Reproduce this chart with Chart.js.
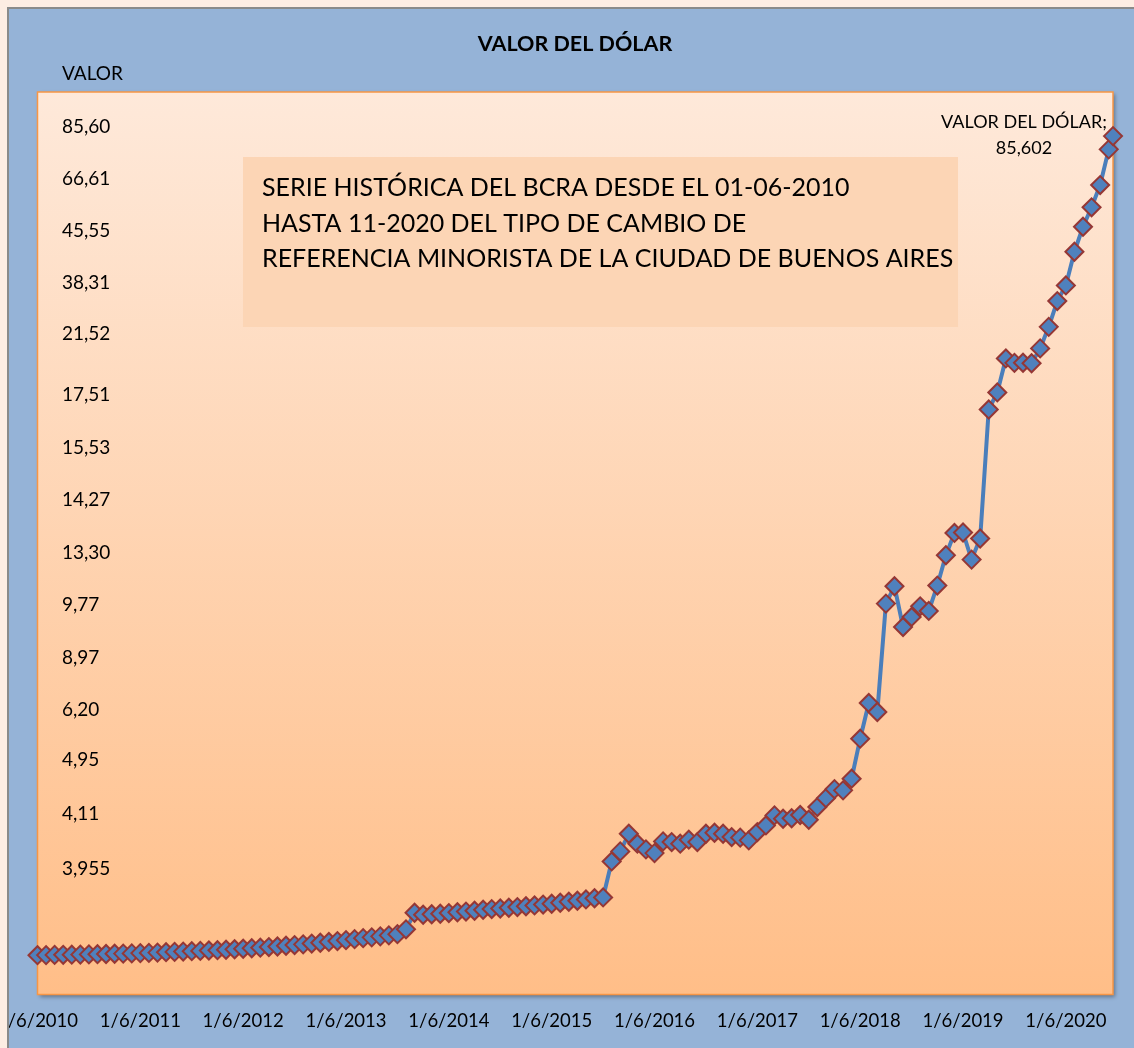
<!DOCTYPE html>
<html lang="es">
<head>
<meta charset="utf-8">
<title>Valor del dólar</title>
<script src="https://cdn.jsdelivr.net/npm/chart.js@4.4.1/dist/chart.umd.min.js"></script>
<style>
  html, body { margin: 0; padding: 0; overflow: hidden; background: #fdede3; }
  #grafico { position: absolute; left: -30px; top: 0; }
</style>
</head>
<body>
<canvas id="grafico" width="1164" height="1048"></canvas>
<script>
// valor del dolar al 1° de cada mes, desde 1/6/2010
const valores = [
  3.92, 3.93, 3.95, 3.96, 3.97, 3.98, 4.00,
  4.02, 4.04, 4.06, 4.08, 4.10, 4.13, 4.15, 4.18, 4.22, 4.25, 4.28, 4.32,
  4.35, 4.39, 4.42, 4.46, 4.51, 4.56, 4.61, 4.67, 4.73, 4.79, 4.86, 4.93,
  5.00, 5.08, 5.16, 5.24, 5.33, 5.42, 5.52, 5.62, 5.70, 5.80, 5.90, 6.02,
  6.50, 8.15, 7.95, 8.00, 8.05, 8.12, 8.20, 8.27, 8.35, 8.45, 8.52, 8.58,
  8.65, 8.72, 8.80, 8.88, 8.97, 9.05, 9.15, 9.25, 9.35, 9.48, 9.60, 9.68,
  13.27, 14.27, 16.03, 15.04, 14.47, 14.10, 15.27, 15.20, 15.04, 15.44, 15.20, 16.03,
  16.13, 16.03, 15.70, 15.64, 15.37, 16.20, 16.86, 17.86, 17.53, 17.58, 17.90, 17.43,
  18.69, 19.58, 20.48, 20.36, 21.52, 25.51, 29.07, 28.17, 38.98, 40.71, 36.65, 37.65,
  38.71, 38.25, 40.78, 43.80, 46.03, 46.07, 43.37, 45.47, 58.34, 60.04, 63.43, 62.99,
  63.00, 62.95, 64.43, 66.58, 69.15, 70.71, 74.07, 76.56, 78.50, 80.72, 84.28
];
// ultimo dato de la serie
const ultimaFecha = '16/11/2020';
const ultimoValor = 85.602;

const etiquetasX = ['1/6/2010', '1/6/2011', '1/6/2012', '1/6/2013', '1/6/2014', '1/6/2015',
  '1/6/2016', '1/6/2017', '1/6/2018', '1/6/2019', '1/6/2020'];

// rotulos escritos a mano sobre el eje vertical y el valor del eje donde aparecen
const etiquetasY = ['85,60', '66,61', '45,55', '38,31', '21,52', '17,51', '15,53', '14,27',
  '13,30', '9,77', '8,97', '6,20', '4,95', '4,11', '3,955'];
const posicionesY = [86.5, 81.3, 76.2, 71.0, 65.85, 59.75, 54.5, 49.3, 44.0, 38.9, 33.6, 28.4,
  23.35, 18.05, 12.55];

const titulo = 'VALOR DEL DÓLAR';
const tituloEje = 'VALOR';
const nota = ['SERIE HISTÓRICA DEL BCRA DESDE EL 01-06-2010',
  'HASTA 11-2020 DEL TIPO DE CAMBIO DE',
  'REFERENCIA MINORISTA DE LA CIUDAD DE BUENOS AIRES'];

// meses transcurridos desde el 1/6/2010
function mesesDesde(fecha) {
  const [d, m, a] = fecha.split('/').map(Number);
  return (a - 2010) * 12 + (m - 6) + (d - 1) / 30;
}

const fechas = valores.map((v, i) => {
  const m = 5 + i;
  return '1/' + (m % 12 + 1) + '/' + (2010 + Math.floor(m / 12));
});
fechas.push(ultimaFecha);
const serie = valores.concat([ultimoValor]);
const puntos = serie.map((v, i) => ({ x: mesesDesde(fechas[i]), y: v }));

const OX = 30; // el canvas empieza 30px a la izquierda de la pagina
const fuente = 'Lato, "Open Sans", sans-serif';

const fondo = {
  id: 'fondo',
  beforeDraw(chart) {
    const { ctx, chartArea: a } = chart;
    ctx.save();
    ctx.fillStyle = '#95b3d7';
    ctx.fillRect(0, 0, chart.width, chart.height);
    const g = ctx.createLinearGradient(0, a.top, 0, a.bottom);
    g.addColorStop(0, '#fee9da');
    g.addColorStop(1, '#ffbe88');
    ctx.shadowColor = 'rgba(0,0,0,0.35)';
    ctx.shadowBlur = 4;
    ctx.shadowOffsetX = 2;
    ctx.shadowOffsetY = 2;
    ctx.fillStyle = g;
    ctx.fillRect(a.left, a.top, a.right - a.left, a.bottom - a.top);
    ctx.shadowColor = 'transparent';
    ctx.strokeStyle = '#f79646';
    ctx.lineWidth = 1.5;
    ctx.strokeRect(a.left, a.top, a.right - a.left, a.bottom - a.top);
    ctx.restore();
  },
  afterDraw(chart) {
    const ctx = chart.ctx;
    ctx.save();
    ctx.translate(OX, 0);
    ctx.fillStyle = '#000';
    ctx.textBaseline = 'middle';
    ctx.font = 'bold 21.5px ' + fuente;
    ctx.textAlign = 'center';
    ctx.fillText(titulo, 575, 44);
    ctx.font = '19px ' + fuente;
    ctx.textAlign = 'left';
    ctx.fillText(tituloEje, 62, 74);

    // recuadro con la nota
    ctx.fillStyle = '#fcd5b5';
    ctx.fillRect(243, 157, 715, 170);
    ctx.fillStyle = '#000';
    ctx.font = '25px ' + fuente;
    nota.forEach((t, i) => ctx.fillText(t, 262, 188 + i * 35.5));

    // etiqueta del ultimo punto
    const meta = chart.getDatasetMeta(0);
    const p = meta.data[meta.data.length - 1];
    ctx.restore();
    ctx.save();
    ctx.fillStyle = '#000';
    ctx.textBaseline = 'middle';
    ctx.textAlign = 'center';
    ctx.font = '18px ' + fuente;
    ctx.fillText('VALOR DEL DÓLAR;', p.x - 89, p.y - 14);
    ctx.fillText(ultimoValor.toFixed(3).replace('.', ','), p.x - 89, p.y + 12);

    // margen de la hoja y borde del objeto grafico
    ctx.translate(OX, 0);
    ctx.fillStyle = '#fdede3';
    ctx.fillRect(-OX, 0, OX + 7, chart.height);
    ctx.fillRect(-OX, 0, chart.width, 7);
    ctx.strokeStyle = '#8a8a8a';
    ctx.lineWidth = 2;
    ctx.beginPath();
    ctx.moveTo(8, chart.height);
    ctx.lineTo(8, 8);
    ctx.lineTo(chart.width, 8);
    ctx.stroke();
    ctx.restore();
  }
};

new Chart(document.getElementById('grafico'), {
  type: 'line',
  data: {
    datasets: [{
      label: 'VALOR DEL DÓLAR',
      data: puntos,
      borderColor: '#4a7ebb',
      borderWidth: 4,
      borderJoinStyle: 'round',
      borderCapStyle: 'round',
      tension: 0,
      clip: false,
      pointStyle: 'rectRot',
      pointRadius: 9,
      pointHoverRadius: 9,
      pointBackgroundColor: '#4f81bd',
      pointBorderColor: '#953735',
      pointBorderWidth: 2
    }]
  },
  options: {
    responsive: false,
    devicePixelRatio: 1,
    animation: false,
    layout: { padding: { left: 18.5, right: 21, top: 92, bottom: 0 } },
    plugins: {
      legend: { display: false },
      tooltip: { enabled: false },
      title: { display: false }
    },
    scales: {
      x: {
        type: 'linear',
        min: 0,
        max: mesesDesde(ultimaFecha),
        grid: { display: false, drawTicks: false },
        border: { display: false },
        afterBuildTicks: (scale) => {
          scale.ticks = etiquetasX.map(t => ({ value: mesesDesde(t) }));
        },
        ticks: {
          autoSkip: false,
          maxRotation: 0,
          padding: 17.5,
          color: '#000',
          font: { family: fuente, size: 18.5, lineHeight: 1 },
          callback: (v, i) => etiquetasX[i]
        }
      },
      y: {
        min: 0,
        max: 90,
        grid: { display: false, drawTicks: false },
        border: { display: false },
        afterBuildTicks: (scale) => {
          scale.ticks = posicionesY.map(v => ({ value: v }));
        },
        ticks: {
          mirror: true,
          padding: 24.5,
          color: '#000',
          font: { family: fuente, size: 19 },
          callback: (v, i) => etiquetasY[i]
        }
      }
    }
  },
  plugins: [fondo]
});
</script>
</body>
</html>
